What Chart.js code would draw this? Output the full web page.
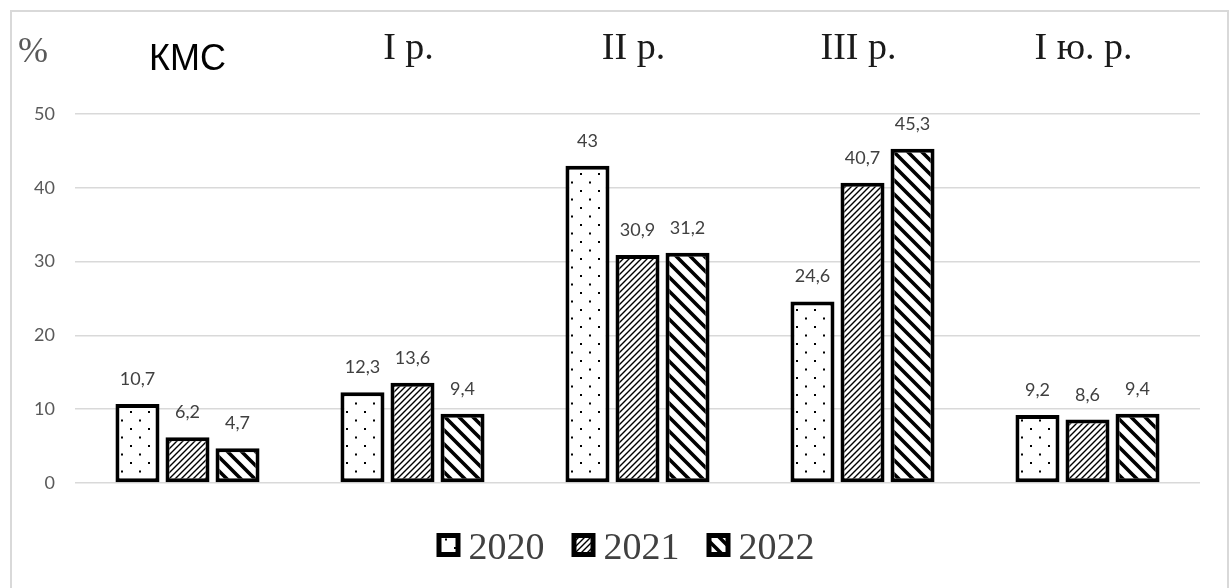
<!DOCTYPE html>
<html>
<head>
<meta charset="utf-8">
<script src="https://cdn.jsdelivr.net/npm/chart.js@4"></script>
<style>
  html, body { margin: 0; padding: 0; background: #ffffff; }
  #wrap { width: 1231px; height: 588px; position: relative; }
</style>
</head>
<body>
<div id="wrap"><canvas id="c" width="1231" height="588"></canvas></div>
<script>
// ---- data ----
const categories = ["КМС", "I р.", "II р.", "III р.", "I ю. р."];
const seriesLabels = ["2020", "2021", "2022"];
const values2020 = [10.7, 12.3, 43, 24.6, 9.2];
const values2021 = [6.2, 13.6, 30.9, 40.7, 8.6];
const values2022 = [4.7, 9.4, 31.2, 45.3, 9.4];
const yTicks = [0, 10, 20, 30, 40, 50];
const unitLabel = "%";

// ---- patterns ----
function makeTile(w, h, draw) {
  const c = document.createElement('canvas');
  c.width = w; c.height = h;
  const g = c.getContext('2d');
  g.fillStyle = '#ffffff';
  g.fillRect(0, 0, w, h);
  draw(g, w, h);
  return c;
}
const ctxMain = document.getElementById('c').getContext('2d');
const dotTile = makeTile(18, 17, (g) => {
  g.fillStyle = '#000';
  g.fillRect(4, 3, 2, 2);
  g.fillRect(13, 11.5, 2, 2);
});
const fineTile = makeTile(6, 6, (g, s) => {
  g.strokeStyle = '#000'; g.lineWidth = 1.4;
  g.beginPath();
  g.moveTo(0, s); g.lineTo(s, 0);
  g.moveTo(-2, 2); g.lineTo(2, -2);
  g.moveTo(s - 2, s + 2); g.lineTo(s + 2, s - 2);
  g.stroke();
});
const wideTile = makeTile(14, 14, (g, s) => {
  g.strokeStyle = '#000'; g.lineWidth = 3.6;
  g.beginPath();
  g.moveTo(0, 0); g.lineTo(s, s);
  g.moveTo(-3, s - 3); g.lineTo(3, s + 3);
  g.moveTo(s - 3, -3); g.lineTo(s + 3, 3);
  g.stroke();
});
const patterns = [
  ctxMain.createPattern(dotTile, 'repeat'),
  ctxMain.createPattern(fineTile, 'repeat'),
  ctxMain.createPattern(wideTile, 'repeat')
];

const fmt = (v) => String(v).replace('.', ',');

// ---- custom drawing plugin ----
const decor = {
  id: 'decor',
  beforeDraw(chart) {
    const g = chart.ctx;
    g.save();
    g.strokeStyle = '#d9d9d9';
    g.lineWidth = 2;
    g.strokeRect(11, 11, 1217, 600);
    g.restore();
  },
  afterDatasetsDraw(chart) {
    const g = chart.ctx;
    const xs = chart.scales.x;
    g.save();
    // value labels
    g.font = '18px Lato';
    g.fillStyle = '#404040';
    g.textAlign = 'center';
    g.textBaseline = 'alphabetic';
    chart.data.datasets.forEach((ds, di) => {
      const meta = chart.getDatasetMeta(di);
      meta.data.forEach((el, i) => {
        g.fillText(fmt(ds.data[i]), el.x, el.y - 19);
      });
    });
    // category labels on top
    categories.forEach((cat, i) => {
      const x = xs.getPixelForValue(i);
      if (i === 0) {
        g.font = '36px "Liberation Sans"';
        g.fillStyle = '#000000';
        g.fillText(cat, x, 70);
      } else {
        g.font = '38px "Liberation Serif"';
        g.fillStyle = '#1a1a1a';
        g.fillText(cat, x - 4, 59);
      }
    });
    // unit
    g.font = '36px "Liberation Serif"';
    g.fillStyle = '#595959';
    g.textAlign = 'left';
    g.fillText(unitLabel, 18, 62);
    // legend
    g.font = '38px "Liberation Serif"';
    const box = 24, gapBox = 8, gapItem = 27;
    const widths = seriesLabels.map(t => g.measureText(t).width);
    const total = widths.reduce((a, w) => a + box + gapBox + w, 0) + gapItem * (seriesLabels.length - 1);
    let x = 625.5 - total / 2;
    const cy = 545;
    seriesLabels.forEach((t, i) => {
      g.fillStyle = patterns[i];
      g.fillRect(x + 2.5, cy - box / 2 + 2.5, box - 5, box - 5);
      g.strokeStyle = '#000';
      g.lineWidth = 5;
      g.strokeRect(x + 2.5, cy - box / 2 + 2.5, box - 5, box - 5);
      g.fillStyle = '#404040';
      g.textAlign = 'left';
      g.fillText(t, x + box + gapBox, cy + 14);
      x += box + gapBox + widths[i] + gapItem;
    });
    g.restore();
  }
};

const seriesValues = [values2020, values2021, values2022];

new Chart(ctxMain, {
  type: 'bar',
  data: {
    labels: categories,
    datasets: seriesLabels.map((lab, i) => ({
      label: lab,
      data: seriesValues[i],
      backgroundColor: patterns[i],
      borderColor: '#000000',
      borderWidth: 4,
      borderSkipped: false,
      categoryPercentage: 0.667,
      barPercentage: 0.88
    }))
  },
  options: {
    responsive: false,
    animation: false,
    devicePixelRatio: 1,
    layout: { padding: { left: 0, right: 31, top: 114, bottom: 105 } },
    plugins: { legend: { display: false }, tooltip: { enabled: false } },
    scales: {
      x: { display: false, offset: true },
      y: {
        min: 0, max: 50,
        afterFit(scale) { scale.width = 75; },
        afterBuildTicks(scale) { scale.ticks = yTicks.map(v => ({ value: v })); },
        grid: { color: '#d9d9d9', lineWidth: 1.5, drawTicks: false },
        border: { display: false },
        ticks: { padding: 20, color: '#595959', font: { family: 'Lato', size: 18 } }
      }
    }
  },
  plugins: [decor]
});
</script>
</body>
</html>
